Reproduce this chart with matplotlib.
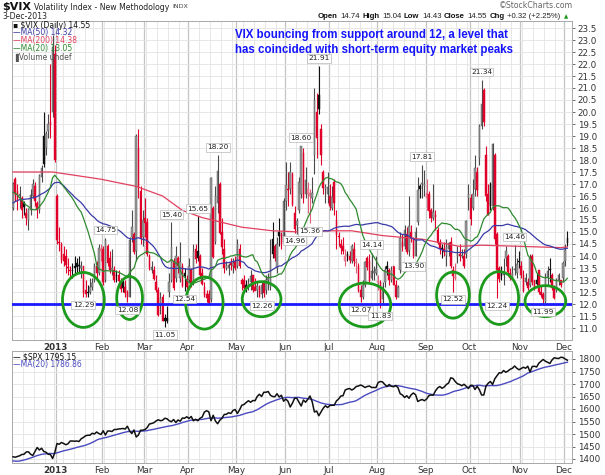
import numpy as np
import pandas as pd
import matplotlib
matplotlib.use("Agg")
import matplotlib.pyplot as plt
from matplotlib.patches import Ellipse

plt.rcParams['font.family'] = ['DejaVu Sans']

# ---------------- data ----------------
start_date = '2012-12-03'
end_date = '2013-12-03'
holidays = ['2012-12-25', '2013-01-01', '2013-01-21', '2013-02-18', '2013-03-29',
            '2013-05-27', '2013-07-04', '2013-09-02', '2013-11-28']

vix_prior_close = [13.98, 13.98, 14.71, 15.43, 15.87, 14.84, 15.73,
                   15.32, 15.71, 15.43, 14.55, 14.33, 15.11, 15.58, 16.26, 15.56, 16.14, 15.19, 14.48, 14.02,
                   14.64, 17.06, 17.10, 18.87, 18.22, 17.75, 17.81, 18.60,
                   17.58, 17.59, 17.42, 17.70, 18.98, 17.59, 18.61, 17.45, 16.94, 18.36, 17.99, 16.41, 15.24,
                   15.45, 15.24, 15.31, 15.50, 15.81, 15.18, 15.06, 15.87]

vix_open = [16.0, 17.2, 16.7, 16.5, 16.4, 16.2, 15.8, 15.5, 15.9, 16.5, 16.9, 16.2, 15.9, 17.3, 19.0, 18.5, 19.2, 19.6, 20.0, 22.4,
            16.5, 14.6, 14.5, 14.1, 14.0, 13.5, 13.4, 13.4, 13.6, 13.7, 13.6, 13.5, 13.6, 12.6, 12.5, 12.5, 12.7, 13.0, 13.6, 13.3, 14.2,
            14.3, 13.0, 14.4, 13.9, 13.4, 13.4, 13.2, 13.2, 12.9, 12.9, 12.7, 12.5, 12.3, 14.8, 14.9, 14.2, 18.5, 16.7, 14.8,
            15.6, 15.4, 14.0, 13.4, 13.4, 12.9, 12.6, 11.9, 12.3, 11.4, 11.4, 12.5, 13.0, 13.8, 13.1, 13.9, 13.1, 13.6, 13.3, 13.0,
            13.0, 13.4, 12.9, 14.3, 14.2, 14.0, 13.3, 12.7, 12.4, 12.4, 12.2, 16.0, 14.6, 16.2, 17.0, 15.0, 14.3, 13.5, 13.5, 13.7, 13.6, 13.8,
            13.6, 14.3, 13.0, 13.0, 12.8, 12.7, 12.9, 13.2, 12.7, 12.6, 12.7, 12.4, 12.9, 12.6, 13.0, 12.7, 14.7, 14.4, 13.5, 15.0, 14.9, 14.6,
            16.3, 16.8, 16.8, 17.4, 15.8, 15.3, 15.9, 16.6, 18.3, 16.6, 16.6, 16.5, 16.4, 18.2, 20.0, 20.7, 19.3, 17.5, 16.8, 16.6,
            16.5, 16.0, 17.1, 15.5, 14.8, 14.5, 14.4, 13.8, 14.1, 14.0, 13.8, 14.3, 13.7, 13.6, 12.6, 12.3, 12.8, 13.9, 13.8, 13.1, 13.3, 13.3,
            12.9, 12.9, 12.2, 12.9, 13.6, 13.4, 13.0, 13.6, 12.8, 12.3, 13.4, 14.6, 14.4, 14.9, 14.2, 15.0, 14.7, 14.0, 15.4, 16.9, 17.0, 16.9,
            16.4, 16.6, 15.9, 15.6, 15.7, 15.1, 14.6, 14.3, 14.3, 14.0, 14.3, 14.6, 13.4, 13.1, 14.0, 14.1, 14.0, 14.0, 14.1, 16.4,
            16.4, 16.0, 16.8, 17.5, 18.1, 19.4, 20.9, 18.2, 16.6, 17.0, 16.1, 18.2, 14.9, 13.5, 13.3, 13.2, 13.9, 14.0, 13.3, 13.1, 13.4, 13.3, 13.8,
            13.6, 13.2, 12.9, 12.9, 12.8, 14.0, 13.0, 13.0, 13.4, 12.5, 12.4, 12.1, 13.1, 13.4, 13.2, 12.7, 12.6, 13.0, 13.0, 13.1,
            13.8, 14.74]
vix_high = [17.1, 17.3, 17.0, 16.9, 16.5, 16.3, 16.0, 16.0, 16.8, 17.2, 17.1, 16.3, 17.4, 17.8, 20.0, 19.2, 19.9, 22.0, 23.2, 22.8,
            16.6, 15.2, 14.6, 14.4, 14.3, 13.9, 13.6, 13.7, 14.0, 13.9, 14.0, 13.8, 13.6, 13.0, 12.8, 13.1, 13.1, 13.7, 13.8, 14.5, 14.5,
            14.4, 14.75, 14.5, 14.2, 14.3, 13.6, 13.4, 13.4, 13.1, 13.0, 13.0, 12.6, 14.8, 15.9, 15.0, 19.1, 19.3, 16.9, 15.9,
            16.4, 15.6, 14.1, 13.8, 13.6, 13.2, 12.7, 12.5, 12.4, 11.6, 11.9, 13.3, 15.40, 13.9, 14.4, 14.0, 14.6, 13.7, 13.5, 13.2,
            13.9, 13.5, 14.5, 14.5, 15.65, 14.1, 13.5, 12.9, 12.6, 12.6, 17.3, 16.1, 16.9, 18.20, 17.1, 15.6, 14.7, 13.8, 13.7, 13.9, 13.9, 14.0,
            14.7, 14.5, 13.1, 13.2, 13.0, 13.1, 13.4, 13.2, 13.1, 12.9, 12.8, 12.9, 13.0, 13.2, 13.3, 14.7, 15.4, 14.5, 14.8, 15.6, 15.0, 16.4,
            17.9, 17.5, 17.9, 17.5, 16.1, 15.6, 17.3, 18.60, 18.5, 17.7, 17.1, 16.8, 17.3, 21.0, 20.8, 21.91, 19.5, 17.6, 17.0, 17.5,
            17.0, 16.9, 17.2, 15.9, 15.0, 14.7, 14.8, 14.3, 14.2, 14.2, 14.5, 14.6, 13.9, 13.7, 12.8, 13.0, 13.8, 14.0, 14.1, 14.14, 13.6, 14.0,
            13.2, 13.0, 12.9, 13.6, 13.8, 13.5, 13.6, 13.6, 13.0, 12.8, 15.0, 14.9, 15.3, 15.2, 16.5, 15.3, 14.8, 15.2, 17.3, 17.0, 17.81, 17.6,
            17.2, 16.7, 16.0, 17.0, 15.9, 15.2, 14.7, 14.5, 14.6, 14.7, 14.6, 14.8, 13.6, 13.7, 14.4, 14.5, 14.3, 14.3, 15.5, 17.0,
            16.6, 17.2, 18.2, 17.7, 19.5, 21.34, 21.0, 18.6, 17.0, 17.1, 18.7, 18.3, 15.0, 13.6, 13.6, 13.9, 14.4, 14.1, 13.5, 13.6, 14.46, 13.9, 14.2,
            13.8, 13.4, 13.3, 13.1, 14.1, 14.1, 13.0, 13.3, 13.4, 12.8, 12.5, 13.3, 13.6, 13.9, 13.3, 12.8, 13.1, 13.3, 13.0, 13.8,
            14.5, 15.04]
vix_low = [15.9, 16.3, 15.9, 16.0, 15.6, 15.7, 15.3, 15.1, 15.7, 16.4, 16.1, 15.6, 15.8, 17.1, 17.7, 18.2, 18.9, 18.9, 19.8, 17.9,
           14.5, 14.2, 13.7, 13.6, 13.3, 13.2, 13.1, 13.1, 13.3, 13.3, 13.3, 13.1, 12.29, 12.3, 12.3, 12.4, 12.6, 12.9, 13.1, 13.2, 13.8,
           12.8, 12.9, 13.6, 13.3, 13.2, 12.9, 12.9, 12.8, 12.5, 12.5, 12.3, 12.08, 12.3, 14.6, 14.1, 13.8, 16.4, 14.5, 14.4,
           14.8, 14.0, 13.4, 13.3, 13.0, 12.5, 11.5, 11.6, 11.3, 11.05, 11.2, 12.3, 12.9, 12.6, 12.9, 13.3, 12.9, 12.7, 12.54, 12.6,
           12.9, 12.7, 12.8, 13.7, 13.8, 13.1, 12.8, 12.3, 12.1, 12.0, 12.1, 13.9, 14.5, 15.8, 14.9, 14.1, 13.3, 13.4, 13.2, 13.4, 13.3, 13.4,
           13.5, 13.5, 12.6, 12.6, 12.5, 12.6, 12.6, 12.5, 12.6, 12.3, 12.3, 12.26, 12.3, 12.4, 12.6, 12.6, 13.9, 13.8, 13.3, 14.4, 14.3, 14.6,
           15.9, 16.1, 16.6, 16.1, 14.96, 14.9, 15.8, 16.4, 16.2, 16.4, 15.8, 15.36, 16.2, 17.4, 18.1, 19.9, 17.8, 16.6, 16.2, 16.2,
           15.9, 15.9, 15.7, 14.3, 14.4, 14.1, 14.1, 13.6, 13.8, 13.7, 13.7, 13.6, 13.3, 12.5, 12.07, 12.2, 12.7, 13.4, 12.9, 13.0, 13.0, 13.2,
           12.6, 11.83, 12.0, 12.7, 13.2, 12.8, 12.9, 12.8, 12.2, 12.3, 13.3, 14.2, 14.3, 14.1, 14.0, 14.6, 13.90, 14.0, 15.3, 16.4, 16.4, 16.5,
           15.9, 15.6, 15.4, 15.5, 15.1, 14.5, 14.1, 13.9, 14.0, 13.6, 14.0, 13.5, 12.52, 13.0, 13.7, 13.8, 13.9, 13.5, 13.9, 15.9,
           15.3, 15.9, 16.5, 16.5, 17.8, 19.3, 19.4, 16.3, 15.7, 15.9, 15.9, 14.5, 12.24, 12.9, 13.0, 12.8, 13.6, 13.2, 13.0, 13.0, 13.2, 13.1, 13.5,
           13.1, 12.5, 12.8, 12.6, 12.7, 12.8, 12.6, 12.8, 12.4, 12.3, 11.99, 12.0, 12.8, 12.9, 12.6, 12.2, 12.5, 12.8, 12.7, 12.9,
           13.6, 14.43]
vix_close = [17.02, 16.58, 16.29, 16.58, 15.90, 16.05, 15.57, 15.95, 16.56, 17.00, 16.29, 15.92, 17.36, 17.67, 17.84, 19.08, 19.48, 19.47, 22.72, 18.02,
             14.68, 14.56, 13.83, 13.79, 13.62, 13.49, 13.36, 13.36, 13.52, 13.55, 13.57, 13.57, 12.46, 12.43, 12.46, 12.69, 12.89, 13.57, 13.31, 14.32, 14.28,
             12.90, 14.67, 13.72, 13.41, 13.50, 13.02, 13.16, 12.94, 12.64, 12.66, 12.46, 12.31, 14.68, 15.22, 14.17, 18.99, 16.87, 14.73, 15.51,
             15.36, 14.07, 13.48, 13.53, 13.06, 12.59, 11.56, 12.27, 11.30, 11.30, 11.30, 12.90, 14.39, 12.67, 13.99, 13.57, 13.74, 12.77, 13.15, 12.70,
             13.58, 12.78, 14.21, 13.89, 13.92, 13.19, 12.84, 12.36, 12.24, 12.06, 17.27, 13.96, 16.51, 17.56, 14.97, 14.39, 13.48, 13.61, 13.62, 13.61, 13.71, 13.52,
             14.49, 13.59, 12.85, 12.66, 12.66, 12.88, 13.18, 12.59, 12.55, 12.77, 12.31, 12.80, 12.45, 13.02, 13.07, 13.82, 14.07, 13.92, 14.48, 14.83, 14.50, 16.30,
             16.97, 16.77, 17.50, 16.14, 15.14, 15.44, 17.07, 18.59, 16.41, 17.15, 16.80, 16.61, 16.64, 20.49, 18.90, 20.11, 18.21, 16.84, 16.86, 16.86,
             16.07, 16.44, 16.20, 14.89, 14.78, 14.35, 14.21, 14.01, 14.01, 13.84, 14.42, 13.78, 13.77, 12.54, 12.29, 12.79, 13.75, 13.55, 12.97, 13.39, 13.39, 13.45,
             12.94, 11.98, 12.72, 13.41, 13.44, 12.98, 13.41, 12.81, 12.31, 12.72, 14.73, 14.37, 15.10, 14.15, 15.25, 14.76, 13.98, 14.99, 16.77, 16.81, 17.01, 17.01,
             16.61, 15.88, 15.58, 15.85, 15.63, 14.53, 14.28, 14.29, 14.16, 14.38, 14.53, 13.59, 13.16, 13.12, 14.08, 14.01, 14.05, 13.59, 15.46, 16.60,
             15.54, 16.60, 17.67, 16.74, 19.41, 20.34, 19.60, 16.48, 15.72, 16.07, 18.66, 14.71, 13.42, 13.04, 13.16, 13.33, 14.20, 13.33, 13.09, 13.31, 13.41, 13.65, 13.75,
             13.19, 12.53, 13.10, 12.67, 13.91, 12.90, 12.68, 12.82, 12.52, 12.37, 12.19, 13.10, 13.39, 13.40, 12.66, 12.26, 12.98, 13.20, 12.81, 13.70,
             14.23, 14.55]

# MA(200) of VIX at sample dates
ma200_dates = ['2012-12-03', '2012-12-28', '2013-01-31', '2013-02-25', '2013-03-13', '2013-03-26',
               '2013-04-09', '2013-04-22', '2013-05-03', '2013-05-23', '2013-06-12', '2013-07-02',
               '2013-07-16', '2013-08-05', '2013-08-29', '2013-09-24', '2013-10-08', '2013-11-01',
               '2013-11-27', '2013-12-03']
ma200_vals = [17.5, 17.5, 17.2, 16.9, 16.5, 15.9, 15.6, 15.4, 15.2, 15.05, 15.0, 15.05,
              15.05, 14.85, 14.7, 14.4, 14.45, 14.4, 14.35, 14.38]

spx_prior_close = [1417, 1428, 1394, 1377, 1380, 1380, 1375, 1356, 1353, 1359, 1387, 1387, 1391,
                   1409, 1406, 1398, 1409, 1415, 1416]
spx_close = [1409, 1407, 1410, 1413, 1418, 1419, 1428, 1429, 1419, 1414, 1430, 1446, 1436, 1443, 1430, 1427, 1419, 1418, 1402, 1426,
             1462, 1459, 1466, 1462, 1457, 1461, 1472, 1472, 1471, 1472, 1470, 1481, 1486, 1493, 1495, 1495, 1503, 1500, 1508, 1502, 1498,
             1513, 1496, 1512, 1512, 1510, 1518, 1518, 1520, 1521, 1522, 1520, 1531, 1512, 1502, 1516, 1488, 1496, 1515, 1515,
             1518, 1526, 1540, 1542, 1545, 1552, 1557, 1553, 1555, 1563, 1561, 1553, 1549, 1558, 1546, 1556, 1551, 1564, 1563, 1569,
             1562, 1570, 1553, 1559, 1553, 1563, 1568, 1588, 1593, 1589, 1553, 1575, 1552, 1541, 1555, 1563, 1578, 1579, 1585, 1582, 1594, 1598,
             1582, 1597, 1615, 1618, 1626, 1633, 1627, 1634, 1633, 1650, 1659, 1650, 1667, 1667, 1670, 1655, 1650, 1649, 1661, 1648, 1655, 1631,
             1640, 1631, 1608, 1623, 1643, 1643, 1627, 1612, 1636, 1627, 1639, 1652, 1629, 1588, 1592, 1573, 1588, 1603, 1613, 1606,
             1614, 1615, 1615, 1632, 1640, 1652, 1653, 1676, 1680, 1682, 1676, 1681, 1690, 1692, 1696, 1692, 1686, 1690, 1692, 1686, 1686, 1686,
             1706, 1710, 1708, 1698, 1690, 1698, 1691, 1689, 1694, 1685, 1661, 1656, 1646, 1653, 1643, 1657, 1664, 1657, 1630, 1635, 1638, 1633,
             1640, 1653, 1656, 1655, 1672, 1684, 1690, 1683, 1688, 1698, 1704, 1725, 1722, 1710, 1701, 1698, 1693, 1699, 1691, 1682,
             1695, 1694, 1678, 1691, 1677, 1656, 1656, 1692, 1703, 1710, 1698, 1721, 1733, 1745, 1744, 1754, 1747, 1752, 1759, 1763, 1772, 1763, 1757,
             1762, 1767, 1763, 1771, 1748, 1770, 1771, 1768, 1783, 1791, 1798, 1791, 1787, 1782, 1796, 1805, 1803, 1802, 1807, 1806,
             1800, 1795.15]

high_label_dates = ['2013-02-04', '2013-03-19', '2013-04-05', '2013-04-18', '2013-06-12', '2013-06-24',
                    '2013-07-29', '2013-08-29', '2013-10-08', '2013-10-29']
low_label_dates = ['2013-01-18', '2013-02-19', '2013-03-14', '2013-03-27', '2013-05-16', '2013-06-07',
                   '2013-06-18', '2013-07-22', '2013-08-02', '2013-08-23', '2013-09-19', '2013-10-17', '2013-11-15']

support_level = 12.0
# hand-drawn circles: (date, centre value, width in days, height in points)
circle_dates = ['2013-01-18', '2013-02-20', '2013-04-10', '2013-05-16', '2013-07-24', '2013-09-19', '2013-10-18', '2013-11-18']
circle_vals = [12.17, 12.25, 12.04, 12.2, 11.96, 12.37, 12.25, 12.12]
circle_w = [19, 11.7, 17, 17.6, 23.4, 14.9, 17.6, 18.5]
circle_h = [2.29, 1.79, 2.17, 1.46, 1.83, 1.92, 2.2, 1.29]

vix_ticks = np.arange(11.0, 23.51, 0.5)
spx_ticks = np.arange(1400, 1801, 50)

# ---------------- setup ----------------
dates = pd.bdate_range(start_date, end_date)
dates = dates[~dates.isin(pd.to_datetime(holidays))]
n = len(dates)
o = np.array(vix_open); h = np.array(vix_high); l = np.array(vix_low); c = np.array(vix_close)
assert len(o) == len(h) == len(l) == len(c) == n == len(spx_close)
x = np.arange(n)

allc = pd.Series(vix_prior_close + vix_close)
ma20 = allc.rolling(20).mean().values[-n:]
ma50 = allc.rolling(50).mean().values[-n:]
spx_all = pd.Series(spx_prior_close + spx_close)
spx_ma20 = spx_all.rolling(20).mean().values[-n:]

W, H = 605, 475
fig = plt.figure(figsize=(W / 100, H / 100), dpi=100)
fig.patch.set_facecolor('white')
renderer = fig.canvas.get_renderer()

def px(xp, yp):
    return xp / W, 1 - yp / H

L, R = 12, 572
ax = fig.add_axes([L / W, 1 - 340 / H, (R - L) / W, (340 - 21) / H])
ax2 = fig.add_axes([L / W, 1 - 463 / H, (R - L) / W, (463 - 351) / H])

x0, dx = 13.0, 2.2
xlim = ((L - x0) / dx, (R - x0) / dx)

week_start = [i for i in range(n) if i == 0 or dates[i].weekday() < dates[i - 1].weekday()]
month_start = [i for i in range(1, n) if dates[i].month != dates[i - 1].month]
month_labels = [('2013' if dates[i].month == 1 else dates[i].strftime('%b')) for i in month_start]

for a in (ax, ax2):
    a.set_xlim(*xlim)
    for i in week_start:
        a.axvline(i - 0.5, color='#e3e3e3', lw=0.6, zorder=0)
    for i in month_start:
        a.axvline(i - 0.5, color='#c4c4c4', lw=0.9, zorder=0)
    a.yaxis.tick_right()
    a.tick_params(axis='y', labelsize=6.3, length=2, pad=2, colors='#333333', width=0.5)
    a.tick_params(axis='x', labelsize=6.3, length=0, pad=2, colors='#333333')
    a.set_xticks([i - 0.5 for i in month_start])
    a.set_xticklabels(month_labels)
    for t in a.get_xticklabels():
        if t.get_text() == '2013':
            t.set_fontweight('bold')
    a.grid(axis='y', color='#e3e3e3', lw=0.6, zorder=0)
    a.set_axisbelow(True)
    for s in a.spines.values():
        s.set_color('#a8a8a8')
        s.set_linewidth(0.7)

# ---------------- VIX panel ----------------
ax.set_ylim(10.5, 12.0 + (304 - 21) / 24)
ax.set_yticks(vix_ticks)
ax.set_yticklabels([f'{v:.1f}' for v in vix_ticks])

prev = np.r_[vix_prior_close[-1], c[:-1]]
up = c >= prev
hollow = c > o
face, edge = [], []
for u, hl in zip(up, hollow):
    if u:
        face.append('#9c9c9c' if hl else '#111111'); edge.append('#4a4a4a' if hl else '#111111')
    else:
        face.append('#f2879c' if hl else '#e0002a'); edge.append('#e0607a' if hl else '#e0002a')
ax.vlines(x, l, h, colors=edge, lw=0.8, zorder=3)
body_lo = np.minimum(o, c)
body_h = np.maximum(np.abs(c - o), 0.04)
ax.bar(x, body_h, bottom=body_lo, width=0.8, color=face, edgecolor=edge, linewidth=0.3, zorder=4)

ma_idx = dates.get_indexer(pd.to_datetime(ma200_dates))
ax.plot(ma_idx, ma200_vals, color='#e2405e', lw=0.9, zorder=5)
ax.plot(x, ma50, color='#3a3aa8', lw=0.9, zorder=5)
ax.plot(x, ma20, color='#2f8a2f', lw=0.9, zorder=5)

ax.axhline(support_level, color='#1a1aff', lw=2.0, zorder=6)

for d, v, w, hh in zip(circle_dates, circle_vals, circle_w, circle_h):
    ci = dates.get_loc(pd.Timestamp(d))
    ax.add_patch(Ellipse((ci, v), w, hh, fill=False, ec='#1c9a1c', lw=2.0, zorder=7))

box = dict(boxstyle='square,pad=0.18', fc='white', ec='#b8b8b8', lw=0.5)
for d in high_label_dates:
    i = dates.get_loc(pd.Timestamp(d))
    ax.annotate(f'{h[i]:.2f}', xy=(i, h[i]), xytext=(0, 3.5), textcoords='offset points',
                ha='center', va='bottom', fontsize=5.3, color='#222222', bbox=box, zorder=8)
for d in low_label_dates:
    i = dates.get_loc(pd.Timestamp(d))
    ax.annotate(f'{l[i]:.2f}', xy=(i, l[i]), xytext=(0, -3.5), textcoords='offset points',
                ha='center', va='top', fontsize=5.3, color='#222222', bbox=box, zorder=8)

# legend (top-left)
leg = [('\u25aa $VIX (Daily) 14.55', '#111111', 25), ('\u2014MA(50) 14.32', '#3a3aa8', 33),
       ('\u2014MA(200) 14.38', '#e2405e', 41), ('\u2014MA(20) 13.05', '#2f8a2f', 49),
       ('\u2590Volume undef', '#555555', 57)]
for t, col, yy in leg:
    fig.text(*px(13, yy), t, color=col, fontsize=5.5, va='center', ha='left', zorder=10)

# annotation
fig.text(*px(235, 35), 'VIX bouncing from support around 12, a level that', color='#1414ff',
         fontsize=8.3, fontweight='bold', family=['Liberation Sans', 'DejaVu Sans'], va='center')
fig.text(*px(235, 50), 'has coincided with short-term equity market peaks', color='#1414ff',
         fontsize=8.3, fontweight='bold', family=['Liberation Sans', 'DejaVu Sans'], va='center')

# ---------------- SPX panel ----------------
ax2.set_ylim(1400 - (463 - 459) / 0.25, 1800 + (359 - 351) / 0.25)
ax2.set_yticks(spx_ticks)
ax2.set_yticklabels([f'{int(v)}' for v in spx_ticks])
ax2.plot(x, spx_ma20, color='#4a4ac0', lw=1.0, zorder=4)
ax2.plot(x, spx_close, color='#111111', lw=1.1, zorder=5)
fig.text(*px(13, 357), '\u2014 $SPX 1795.15', color='#111111', fontsize=5.5, va='center')
fig.text(*px(13, 365), '\u2014MA(20) 1786.86', color='#4a4ac0', fontsize=5.5, va='center')

# ---------------- header ----------------
def row(pieces, x_start, y, gap=2.5):
    """Lay text pieces one after another (pixel coordinates)."""
    xx = x_start
    for t, kw in pieces:
        tt = fig.text(*px(xx, y), t, va='center', ha='left', **kw)
        bb = tt.get_window_extent(renderer=renderer)
        xx += bb.width + gap
    return xx

row([('$VIX', dict(fontsize=8.0, fontweight='bold', color='#111111')),
     ('Volatility Index - New Methodology', dict(fontsize=5.6, color='#222222')),
     ('INDX', dict(fontsize=4.6, color='#444444'))], 2, 7, gap=3)
fig.text(*px(2, 16.5), '3-Dec-2013', fontsize=5.6, va='center', color='#222222')
fig.text(*px(573, 6), '\u00a9StockCharts.com', fontsize=5.6, va='center', ha='right', color='#666666')

chg = vix_close[-1] - vix_close[-2]
pct = chg / vix_close[-2] * 100
hfam = ['Liberation Sans', 'DejaVu Sans']
bold = dict(fontsize=5.6, fontweight='bold', color='#111111', family=hfam)
norm = dict(fontsize=5.6, color='#222222', family=hfam)
hdr = [('Open', bold), (f'{vix_open[-1]:.2f}', norm), ('High', bold), (f'{vix_high[-1]:.2f}', norm),
       ('Low', bold), (f'{vix_low[-1]:.2f}', norm), ('Close', bold), (f'{vix_close[-1]:.2f}', norm),
       ('Chg', bold), (f'{chg:+.2f} ({pct:+.2f}%)', norm)]
end = row(hdr, 318, 16.5, gap=2.5)
fig.text(*px(end + 1, 16.5), '\u25b2', fontsize=4.0, va='center', color='#1a9a1a')

fig.savefig('out.png', dpi=100, facecolor='white')
